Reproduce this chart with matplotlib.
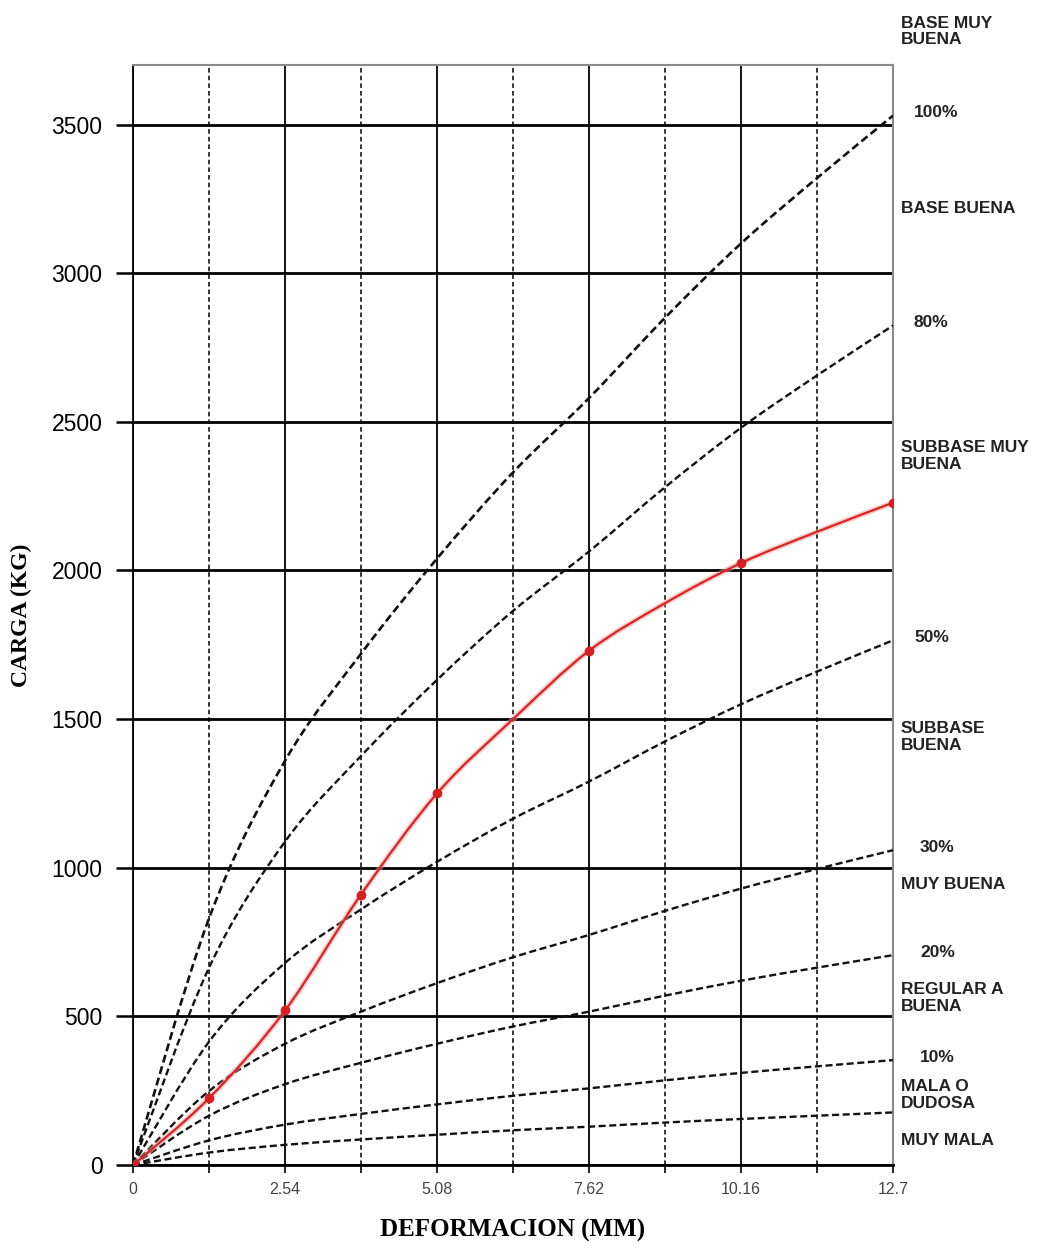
import numpy as np
import matplotlib
matplotlib.use("Agg")
import matplotlib.pyplot as plt
from matplotlib.path import Path
from matplotlib.patches import PathPatch

# deformacion (mm) en cada linea de la cuadricula
deformacion = [0, 1.27, 2.54, 3.81, 5.08, 6.35, 7.62, 8.89, 10.16, 11.43, 12.7]

# curvas patron CBR (kg)
cbr_100 = [0, 830, 1360, 1720, 2040, 2330, 2580, 2850, 3100, 3320, 3530]
cbr_80 = [0, 664, 1088, 1376, 1632, 1864, 2064, 2280, 2480, 2656, 2824]
cbr_50 = [0, 415, 680, 860, 1020, 1165, 1290, 1425, 1550, 1660, 1765]
cbr_30 = [0, 249, 408, 516, 612, 699, 774, 855, 930, 996, 1059]
cbr_20 = [0, 166, 272, 344, 408, 466, 516, 570, 620, 664, 706]
cbr_10 = [0, 83, 136, 172, 204, 233, 258, 285, 310, 332, 353]
cbr_5 = [0, 42, 68, 86, 102, 117, 129, 143, 155, 166, 177]

# curva del ensayo
ensayo = [0, 225, 520, 910, 1250, 1500, 1730, 1890, 2025, 2130, 2228]
ensayo_medidos = [0, 1, 2, 3, 4, 6, 8, 10]

porcentajes = ["100%", "80%", "50%", "30%", "20%", "10%"]
zonas = ["BASE MUY\nBUENA", "BASE BUENA", "SUBBASE MUY\nBUENA", "SUBBASE\nBUENA",
         "MUY BUENA", "REGULAR A\nBUENA", "MALA O\nDUDOSA", "MUY MALA"]
zona_y = [3813, 3218, 2385, 1441, 944, 561, 235, 84]

xticks_lbl = ["0", "2.54", "5.08", "7.62", "10.16", "12.7"]


def smooth_path(x, y):
    # curva suavizada (catmull-rom -> bezier) como en excel
    p = np.column_stack([x, y]).astype(float)
    ext = np.vstack([p[0], p, p[-1]])
    verts = [p[0]]
    codes = [Path.MOVETO]
    for i in range(len(p) - 1):
        p0, p1, p2, p3 = ext[i], ext[i + 1], ext[i + 2], ext[i + 3]
        verts += [p1 + (p2 - p0) / 6, p2 - (p3 - p1) / 6, p2]
        codes += [Path.CURVE4] * 3
    return Path(verts, codes)


fig = plt.figure(figsize=(10.61, 12.51), dpi=100)
ax = fig.add_axes([0.1254, 0.0687, 0.7163, 0.8793])
ax.set_xlim(0, 12.7)
ax.set_ylim(0, 3700)

ax.set_xticks(deformacion[::2])
ax.set_xticklabels(xticks_lbl)
ax.set_xticks(deformacion[1::2], minor=True)
ax.set_yticks(range(0, 3501, 500))

ax.grid(which="major", axis="x", color="black", lw=1.3, ls="-")
ax.grid(which="minor", axis="x", color="black", lw=1.1, ls=(0, (3, 2)))
ax.grid(which="major", axis="y", color="black", lw=2.0, ls="-")
ax.set_axisbelow(True)

ax.tick_params(axis="y", length=12, width=1.8, pad=10, labelsize=16.5)
ax.tick_params(axis="x", which="both", length=6, width=1.2, pad=6,
               labelsize=11.5, labelcolor="#444444")
for lbl in ax.get_yticklabels():
    lbl.set_fontfamily("Liberation Sans")
for lbl in ax.get_xticklabels():
    lbl.set_fontfamily("Liberation Sans")

for s in ["top", "right"]:
    ax.spines[s].set_color("#8a8a8a")
    ax.spines[s].set_linewidth(1.5)
ax.spines["bottom"].set_linewidth(2.0)
ax.spines["left"].set_linewidth(1.3)

curvas = [cbr_100, cbr_80, cbr_50, cbr_30, cbr_20, cbr_10, cbr_5]
for i, c in enumerate(curvas):
    lw = 1.9 if i == 0 else 1.7
    patch = PathPatch(smooth_path(deformacion, c), fill=False, edgecolor="#111111",
                      lw=lw, ls=(0, (3, 1.5)), zorder=3)
    ax.add_patch(patch)

ax.add_patch(PathPatch(smooth_path(deformacion, ensayo), fill=False,
                       edgecolor="#e8a0a0", lw=4, alpha=0.5, zorder=4))
ax.add_patch(PathPatch(smooth_path(deformacion, ensayo), fill=False,
                       edgecolor="#dd2222", lw=1.6, zorder=5))
ax.plot([deformacion[i] for i in ensayo_medidos], [ensayo[i] for i in ensayo_medidos],
        ls="none", marker="o", ms=6, color="#d42020", zorder=6)

# etiquetas de porcentaje y zonas a la derecha
for j, (txt, c) in enumerate(zip(porcentajes, curvas)):
    dx = 0.35 if j < 3 else 0.45
    ax.text(12.7 + dx, c[-1] + 10, txt, fontsize=12.5, fontweight="bold",
            family="Liberation Sans", ha="left", va="center", clip_on=False, color="#222222")
for txt, yy in zip(zonas, zona_y):
    ax.text(12.83, yy, txt, fontsize=12.5, fontweight="bold", family="Liberation Sans",
            ha="left", va="center", clip_on=False, color="#222222", linespacing=1.15)

ax.set_xlabel("DEFORMACION (MM)", fontsize=18, fontweight="bold",
              family="Liberation Serif", labelpad=16)
ax.set_ylabel("CARGA (KG)", fontsize=17, fontweight="bold",
              family="Liberation Serif", labelpad=14)

plt.savefig("out.png", dpi=100)
